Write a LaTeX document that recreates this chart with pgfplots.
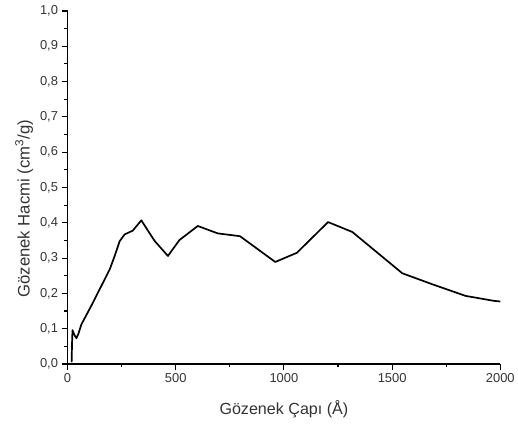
\documentclass[border=0pt]{standalone}
\usepackage{fontspec}
\setmainfont{Liberation Sans}
\usepackage{pgfplots}
\pgfplotsset{compat=1.18}
\begin{document}
\begin{tikzpicture}
\begin{axis}[
  name=ax,
  scale only axis,
  width=434bp, height=354bp,
  xmin=0, xmax=2000, ymin=0, ymax=1.0,
  axis x line*=bottom, axis y line*=left,
  axis line style={-, line width=1.1bp, black},
  xtick={0,500,1000,1500,2000},
  minor xtick={250,750,1250,1750},
  ytick={0,0.1,...,1.0},
  minor ytick={0.05,0.15,...,0.95},
  tick align=outside,
  major tick length=6bp, minor tick length=3.5bp,
  tick style={line width=1.1bp, black},
  /pgf/number format/assume math mode=true,
  xticklabel style={/pgf/number format/1000 sep={}, font=\fontsize{13}{15}\selectfont, text=black!80},
  yticklabel style={/pgf/number format/.cd, fixed, fixed zerofill, precision=1, use comma, /tikz/.cd, font=\fontsize{13}{15}\selectfont, text=black!80},
  xlabel={Gözenek Çapı (Å)},
  ylabel={Gözenek Hacmi (cm\textsuperscript{3}/g)},
  xlabel style={at={(axis description cs:0.5,-0.127)}, anchor=center, font=\fontsize{16.2}{19}\selectfont, text=black!80},
  ylabel style={at={(axis description cs:-0.1,0.44)}, anchor=center, font=\fontsize{16.8}{19}\selectfont, text=black!80},
]
\addplot[black, line width=1.7bp, line join=round] coordinates {
(19,0.005) (21,0.06) (23,0.096) (28,0.088) (34,0.080) (41,0.073) (50,0.085) (64,0.112)
(110,0.165) (195,0.268) (218,0.306) (241,0.348) (264,0.367) (302,0.378) (341,0.407)
(402,0.349) (464,0.306) (517,0.351) (602,0.391) (694,0.370) (797,0.362) (960,0.289)
(1060,0.315) (1204,0.402) (1316,0.374) (1547,0.257) (1685,0.226) (1839,0.193)
(1969,0.179) (2000,0.177)
};
\end{axis}
\path ([shift={(-67.7bp,-65bp)}]ax.south west) rectangle ([shift={(16.3bp,11bp)}]ax.north east);
\end{tikzpicture}
\end{document}
